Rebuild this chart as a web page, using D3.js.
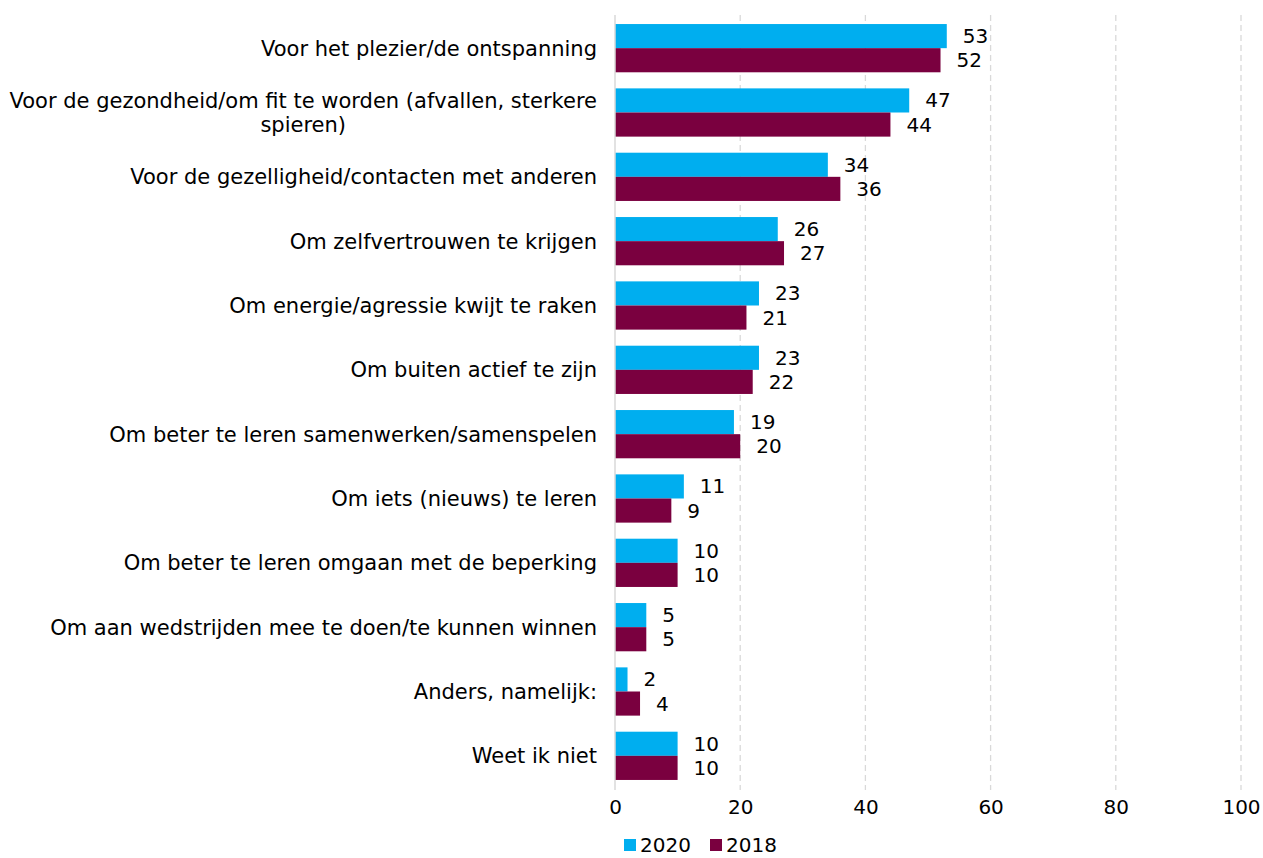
<!DOCTYPE html>
<html><head><meta charset="utf-8">
<script src="https://cdn.jsdelivr.net/npm/d3@7"></script>
<style>
html,body{margin:0;padding:0;background:#fff;}
svg{display:block;font-family:"DejaVu Sans",sans-serif;}
</style></head>
<body><svg id="c" width="1263" height="858"></svg>
<script>
const categories = [
  "Voor het plezier/de ontspanning",
  "Voor de gezondheid/om fit te worden (afvallen, sterkere|spieren)",
  "Voor de gezelligheid/contacten met anderen",
  "Om zelfvertrouwen te krijgen",
  "Om energie/agressie kwijt te raken",
  "Om buiten actief te zijn",
  "Om beter te leren samenwerken/samenspelen",
  "Om iets (nieuws) te leren",
  "Om beter te leren omgaan met de beperking",
  "Om aan wedstrijden mee te doen/te kunnen winnen",
  "Anders, namelijk:",
  "Weet ik niet"
];
const seriesNames = ["2020", "2018"];
const values2020 = [53, 47, 34, 26, 23, 23, 19, 11, 10, 5, 2, 10];
const values2018 = [52, 44, 36, 27, 21, 22, 20, 9, 10, 5, 4, 10];
const xTicks = [0, 20, 40, 60, 80, 100];
const colors = ["#00AEEF", "#7A003F"];

const svg = d3.select("#c");
const x = d3.scaleLinear().domain([0, 100]).range([615, 1241]);
const y = d3.scaleBand().domain(categories).range([16, 788]).paddingInner(0.25).paddingOuter(0.125);
const ySub = d3.scaleBand().domain(seriesNames).range([0, y.bandwidth()]);
const fs = 21;
const fsNum = 20;

// gridlines
svg.append("g").selectAll("line").data(xTicks.slice(1)).join("line")
  .attr("x1", d => x(d)).attr("x2", d => x(d))
  .attr("y1", 15).attr("y2", 790)
  .attr("stroke", "#d9d9d9").attr("stroke-width", 1.3).attr("stroke-dasharray", "6,4");

// x axis
const xAxis = d3.axisBottom(x).tickValues(xTicks).tickSize(0).tickPadding(0);
const gx = svg.append("g").attr("transform", "translate(0,797)").call(xAxis);
gx.select(".domain").remove();
gx.selectAll("text").attr("font-size", fsNum).attr("font-family", "DejaVu Sans").attr("fill", "#000").attr("dy", "0.85em");

// bars
const series = [values2020, values2018];
const groups = svg.append("g").selectAll("g").data(categories).join("g")
  .attr("transform", d => `translate(0,${y(d)})`);
seriesNames.forEach((s, si) => {
  groups.append("rect")
    .attr("x", x(0))
    .attr("y", ySub(s))
    .attr("width", (d, i) => x(series[si][i]) - x(0))
    .attr("height", ySub.bandwidth())
    .attr("fill", colors[si]);
  groups.append("text")
    .attr("x", (d, i) => x(series[si][i]) + 16)
    .attr("y", ySub(s) + ySub.bandwidth() / 2)
    .attr("dy", "0.35em")
    .attr("font-size", fsNum)
    .attr("fill", "#000")
    .text((d, i) => series[si][i]);
});

// zero axis line
svg.append("line").attr("x1", x(0)).attr("x2", x(0)).attr("y1", 15).attr("y2", 790)
  .attr("stroke", "#d9d9d9").attr("stroke-width", 1.5);

// category labels
const yAxis = svg.append("g");
categories.forEach(c => {
  const lines = c.split("|");
  const cy = y(c) + y.bandwidth() / 2;
  const t = yAxis.append("text").attr("font-size", fs).attr("fill", "#000");
  if (lines.length === 1) {
    t.attr("x", 597).attr("y", cy).attr("dy", "0.35em").attr("text-anchor", "end").text(lines[0]);
  } else {
    const tmp = svg.append("text").attr("font-size", fs).text(lines[0]);
    const w = tmp.node().getComputedTextLength();
    tmp.remove();
    const center = 597 - w / 2;
    lines.forEach((l, li) => {
      t.append("tspan").attr("x", center).attr("text-anchor", "middle")
        .attr("y", cy + (li - (lines.length - 1) / 2) * 24).attr("dy", "0.35em").text(l);
    });
  }
});

// legend
const lg = svg.append("g").attr("transform", "translate(624,839)");
seriesNames.forEach((s, i) => {
  const g = lg.append("g").attr("transform", `translate(${i * 86},0)`);
  g.append("rect").attr("width", 12).attr("height", 12).attr("fill", colors[i]);
  g.append("text").attr("x", 16).attr("y", 6).attr("dy", "0.35em").attr("font-size", fsNum).attr("fill", "#000").text(s);
});
</script></body></html>
